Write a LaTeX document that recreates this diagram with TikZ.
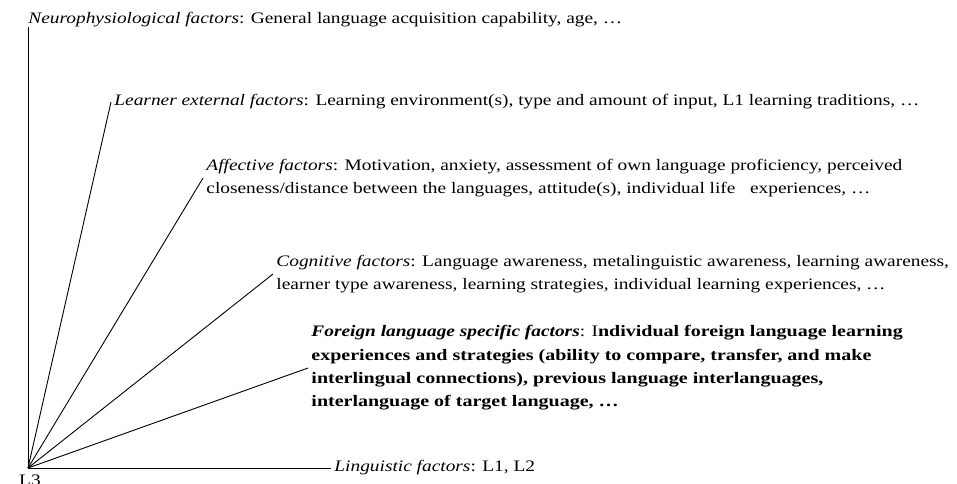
\documentclass[tikz,border=0pt]{standalone}
\usepackage{fontspec}
\setmainfont{Liberation Serif}[FakeStretch=1.21,BoldFeatures={FakeStretch=1.25}]
\begin{document}
\begin{tikzpicture}[x=1pt,y=-1pt,line width=0.9pt]
  \tikzstyle{every node}=[font=\fontsize{16}{23.4}\selectfont]
  \tikzstyle{factor}=[anchor=west,align=left,inner sep=3pt]
  \useasboundingbox (0,0) rectangle (957,483);
  \coordinate (o) at (28,468);
  \node[anchor=north,inner sep=0pt] (l3) at (30,474) {L3};
  \node[anchor=south west,inner sep=0pt] (neuro) at (28,27)
    {\textit{Neurophysiological factors}: General language acquisition capability, age, …};
  \node[factor] (extern) at (111,102)
    {\textit{Learner external factors}: Learning environment(s), type and amount of input, L1 learning traditions, …};
  \node[factor] (affect) at (203,178)
    {\textit{Affective factors}: Motivation, anxiety, assessment of own language proficiency, perceived\\
     closeness/distance between the languages, attitude(s), individual life\ \ \ experiences, …};
  \node[factor] (cognit) at (273,274)
    {\textit{Cognitive factors}: Language awareness, metalinguistic awareness, learning awareness,\\
     learner type awareness, learning strategies, individual learning experiences, …};
  \node[factor] (foreign) at (308,368)
    {\textbf{\textit{Foreign language specific factors}}: I\textbf{ndividual foreign language learning}\\
     \textbf{experiences and strategies (ability to compare, transfer, and make}\\
     \textbf{interlingual connections), previous language interlanguages,}\\
     \textbf{interlanguage of target language, …}};
  \node[factor] (lingu) at (331,468)
    {\textit{Linguistic factors}: L1, L2};
  \draw (o) -- (neuro.south west);
  \draw (o) -- (extern.west);
  \draw (o) -- (affect.west);
  \draw (o) -- (cognit.west);
  \draw (o) -- (foreign.west);
  \draw (o) -- (lingu.west);
\end{tikzpicture}
\end{document}
